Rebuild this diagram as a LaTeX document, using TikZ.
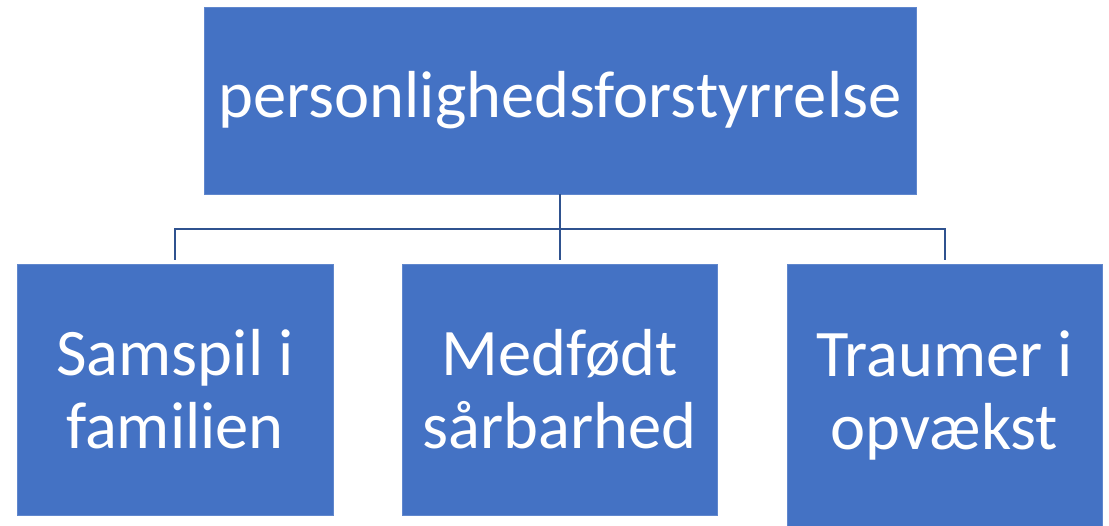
\documentclass[tikz,border=0pt]{standalone}
\usepackage{fontspec}
\setmainfont{Carlito}
\usetikzlibrary{positioning}

\definecolor{boxblue}{HTML}{4472C4}
\definecolor{lineblue}{HTML}{2F528F}

\tikzset{
	box/.style = {fill = boxblue, draw = boxblue!85!white, line width = 0.8pt, text = white, align = center, inner sep = 0pt, font = \fontsize{66.5}{73}\selectfont},
	link/.style = {draw = lineblue, line width = 2pt}
}

\begin{document}
\begin{tikzpicture}[x = 1pt, y = -1pt]
	\useasboundingbox (0, 0) rectangle (1109, 526);
	
	\node[box, minimum width = 712pt, minimum height = 187pt] (disorder) at (560, 100.5) {personlighedsforstyrrelse};
	
	\node[box, minimum width = 316pt, minimum height = 251pt] (family) at (175, 389.5) {Samspil i\\familien};
	\node[box, minimum width = 315pt, minimum height = 251pt] (innate) at (559.5, 389.5) {Medfødt\\sårbarhed};
	\node[box, minimum width = 315pt, minimum height = 262pt] (trauma) at (944.5, 395) {Traumer i\\opvækst};
	
	\coordinate (bus) at (560, 229);
	\draw[link] (disorder.south) -- (bus);
	\draw[link, shorten > = 4pt] (bus) -| (family.north);
	\draw[link, shorten > = 4pt] (bus) -- (bus -| innate.north) -- (innate.north);
	\draw[link, shorten > = 4pt] (bus) -| (trauma.north);
\end{tikzpicture}
\end{document}
